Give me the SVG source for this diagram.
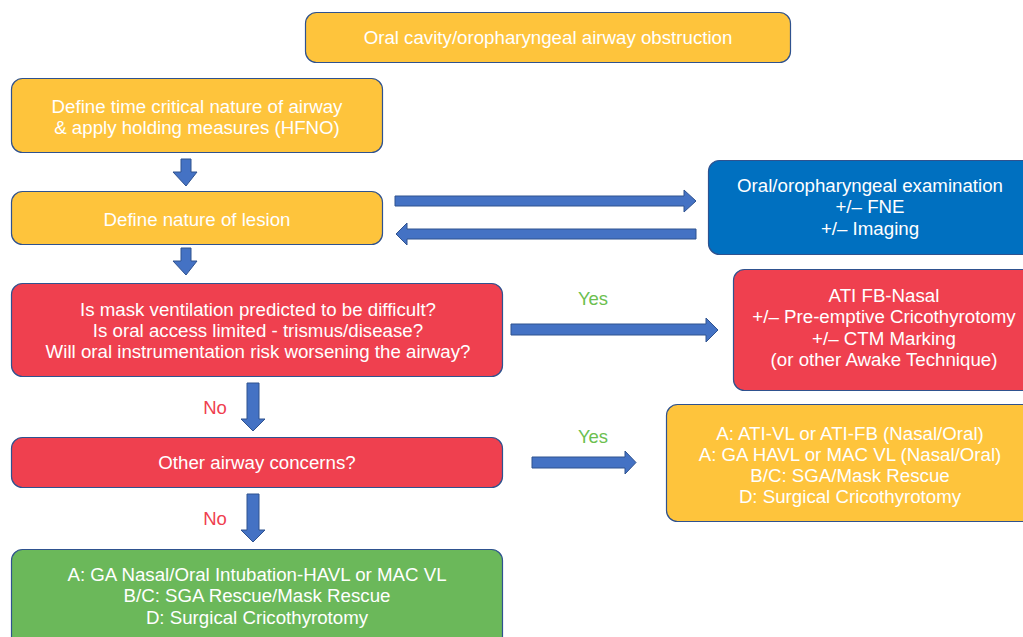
<svg xmlns="http://www.w3.org/2000/svg" width="1023" height="637" viewBox="0 0 1023 637">
<style>
.box{stroke:#2F528F;stroke-width:1.2}
.y{fill:#FEC43C}
.r{fill:#EF404F}
.b{fill:#0070C0}
.g{fill:#6BB85A}
.t{font-family:"Liberation Sans",Arial,sans-serif;font-size:18.7px;fill:#FFFFFF;text-anchor:middle}
.arr{fill:#4472C4;stroke:#2F528F;stroke-width:1}
.lbl{font-family:"Liberation Sans",Arial,sans-serif;font-size:18.5px;text-anchor:middle}
.yes{fill:#6CBF50}
.no{fill:#EF404F}
</style>
<rect width="1023" height="637" fill="#FFFFFF"/>
<g id="n-top"><rect class="box y" x="305.5" y="12.5" width="485" height="50" rx="11"/><text class="t" x="548" y="44">Oral cavity/oropharyngeal airway obstruction</text></g>
<g id="n-time"><rect class="box y" x="11.5" y="78.5" width="371" height="74" rx="11"/><text class="t" x="197" y="113">Define time critical nature of airway</text><text class="t" x="197" y="134">&amp; apply holding measures (HFNO)</text></g>
<g id="n-lesion"><rect class="box y" x="11.5" y="191.5" width="371" height="53" rx="11"/><text class="t" x="197" y="226">Define nature of lesion</text></g>
<g id="n-exam"><rect class="box b" x="708.5" y="160.5" width="330" height="94" rx="11"/><text class="t" x="870" y="192">Oral/oropharyngeal examination</text><text class="t" x="870" y="213">+/– FNE</text><text class="t" x="870" y="235">+/– Imaging</text></g>
<g id="n-q1"><rect class="box r" x="11.5" y="283.5" width="491" height="93" rx="11"/><text class="t" x="258" y="315.5">Is mask ventilation predicted to be difficult?</text><text class="t" x="258" y="336.5">Is oral access limited - trismus/disease?</text><text class="t" x="258" y="357.5">Will oral instrumentation risk worsening the airway?</text></g>
<g id="n-ati"><rect class="box r" x="733.5" y="269.5" width="305" height="121" rx="11"/><text class="t" x="884" y="302">ATI FB-Nasal</text><text class="t" x="884" y="323">+/– Pre-emptive Cricothyrotomy</text><text class="t" x="884" y="345">+/– CTM Marking</text><text class="t" x="884" y="366">(or other Awake Technique)</text></g>
<g id="n-q2"><rect class="box r" x="11.5" y="437.5" width="491" height="50" rx="11"/><text class="t" x="257" y="469">Other airway concerns?</text></g>
<g id="n-alt"><rect class="box y" x="666.5" y="404.5" width="370" height="117" rx="11"/><text class="t" x="850" y="440">A: ATI-VL or ATI-FB (Nasal/Oral)</text><text class="t" x="850" y="461">A: GA HAVL or MAC VL (Nasal/Oral)</text><text class="t" x="850" y="482">B/C: SGA/Mask Rescue</text><text class="t" x="850" y="503">D: Surgical Cricothyrotomy</text></g>
<g id="n-ga"><rect class="box g" x="11.5" y="549.5" width="491" height="100" rx="11"/><text class="t" x="257" y="581">A: GA Nasal/Oral Intubation-HAVL or MAC VL</text><text class="t" x="257" y="602">B/C: SGA Rescue/Mask Rescue</text><text class="t" x="257" y="624">D: Surgical Cricothyrotomy</text></g>
<g id="connectors">
<polygon class="arr" points="181,159 191,159 191,172 197,172 186,186 173,172 181,172"/>
<polygon class="arr" points="181,248 191,248 191,261 197,261 186,275 173,261 181,261"/>
<polygon class="arr" points="395,196 684,196 684,190 696,201 684,212 684,206 395,206"/>
<polygon class="arr" points="696,229 407,229 407,223 396,234 407,245 407,239 696,239"/>
<polygon class="arr" points="511,324 706,324 706,318 718,330 706,342 706,335 511,335"/>
<polygon class="arr" points="247,383 259,383 259,419 265,419 253,431 241,419 247,419"/>
<polygon class="arr" points="247,494 259,494 259,530 265,530 253,542 241,530 247,530"/>
<polygon class="arr" points="532,457 625,457 625,451 636,462.5 625,474 625,468 532,468"/>
<text class="lbl yes" x="593" y="305">Yes</text>
<text class="lbl yes" x="593" y="443">Yes</text>
<text class="lbl no" x="215" y="414">No</text>
<text class="lbl no" x="215" y="525">No</text>
</g>
</svg>
